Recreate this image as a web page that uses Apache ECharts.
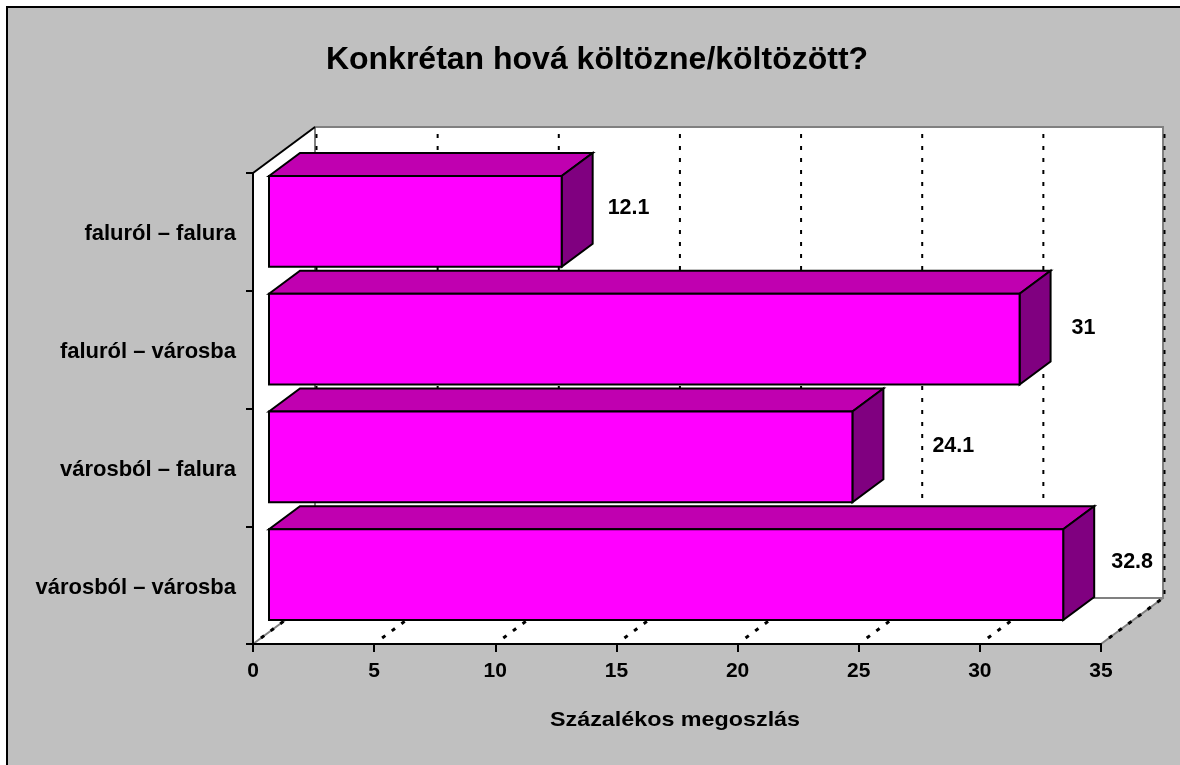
<!DOCTYPE html>
<html>
<head>
<meta charset="utf-8">
<title>Konkrétan hová költözne/költözött?</title>
<script src="https://cdn.jsdelivr.net/npm/echarts@6/dist/echarts.min.js"></script>
<style>
  html, body { margin: 0; padding: 0; background: #ffffff; }
  #chart { width: 1180px; height: 765px; }
</style>
</head>
<body>
<div id="chart"></div>
<script>
// bottom-to-top, the category axis starts at the bottom
const categories = ["városból – városba", "városból – falura", "faluról – városba", "faluról – falura"];
const shares = [32.8, 24.1, 31, 12.1];
const valueTicks = [0, 5, 10, 15, 20, 25, 30, 35];
const titleText = "Konkrétan hová költözne/költözött?";
const axisTitle = "Százalékos megoszlás";

const FONT = '"Liberation Sans", Arial, sans-serif';
// chart depth in px (the fake 3D from the old Excel look)
const DEPTH_X = 62;
const DEPTH_Y = -46;

const myChart = echarts.init(document.getElementById("chart"), null, { renderer: "canvas" });

function renderRoom(params, api) {
  const x0 = api.coord([0, 0])[0];
  const x1 = api.coord([35, 0])[0];
  const yBottom = params.coordSys.y + params.coordSys.height;
  const yTop = params.coordSys.y;
  const backL = x0 + DEPTH_X;
  const backR = x1 + DEPTH_X;
  const backB = yBottom + DEPTH_Y;
  const backT = yTop + DEPTH_Y;
  const children = [];
  const white = { fill: "#ffffff", stroke: null };

  children.push({ type: "polygon", shape: { points: [[backL, backT], [backR, backT], [backR, backB], [backL, backB]] }, style: white });
  children.push({ type: "polygon", shape: { points: [[x0, yTop], [backL, backT], [backL, backB], [x0, yBottom]] }, style: white });
  children.push({ type: "polygon", shape: { points: [[x0, yBottom], [x1, yBottom], [backR, backB], [backL, backB]] }, style: white });

  const gray = { stroke: "#808080", lineWidth: 2, fill: null };
  children.push({ type: "polyline", shape: { points: [[backL, backB], [backL, backT], [backR, backT], [backR, backB], [backL, backB]] }, style: gray });
  children.push({ type: "line", shape: { x1: x0, y1: yBottom, x2: backL, y2: backB }, style: gray });
  children.push({ type: "line", shape: { x1: x1, y1: yBottom, x2: backR, y2: backB }, style: gray });
  children.push({ type: "line", shape: { x1: x0, y1: yTop, x2: backL, y2: backT }, style: { stroke: "#000000", lineWidth: 2 } });

  // dashed gridlines, up the back wall and across the floor
  valueTicks.forEach(function (t) {
    const x = api.coord([t, 0])[0];
    children.push({
      type: "line",
      shape: { x1: x + DEPTH_X + 1.5, y1: backT + 7, x2: x + DEPTH_X + 1.5, y2: backB },
      style: { stroke: "#000000", lineWidth: 2, lineDash: [4, 8] }
    });
    children.push({
      type: "line",
      shape: { x1: x + 8, y1: yBottom - 6, x2: x + DEPTH_X, y2: backB },
      style: { stroke: "#000000", lineWidth: 3, lineDash: [4, 8] }
    });
  });

  return { type: "group", children: children };
}

function renderBar(params, api) {
  const idx = params.dataIndex;
  const band = api.size([0, 1])[1];
  const start = api.coord([0, api.value(1)]);
  const end = api.coord([api.value(0), api.value(1)]);
  // bars stand in the middle of the depth, a quarter of it in front
  const left = start[0] + DEPTH_X / 4 + 0.5;
  const right = end[0] + DEPTH_X / 4;
  const h = band * 0.77;
  const top = end[1] - h / 2 - 10.5;
  const bottom = top + h;
  const dx = DEPTH_X / 2;
  const dy = DEPTH_Y / 2;
  const edge = { stroke: "#000000", lineWidth: 2, lineJoin: "miter" };
  // the labels are not evenly placed in the reference, 24.1 sits well out
  const labelX = [48, 80, 52, 46][idx];
  const labelY = [-23, -21, -22, -24][idx];
  return {
    type: "group",
    children: [
      { type: "polygon", shape: { points: [[left, top], [left + dx, top + dy], [right + dx, top + dy], [right, top]] }, style: Object.assign({ fill: "#c000b0" }, edge) },
      { type: "polygon", shape: { points: [[right, top], [right + dx, top + dy], [right + dx, bottom + dy], [right, bottom]] }, style: Object.assign({ fill: "#800080" }, edge) },
      { type: "rect", shape: { x: left, y: top, width: right - left, height: h }, style: Object.assign({ fill: "#ff00ff" }, edge) },
      { type: "text", style: { x: right + labelX, y: end[1] + labelY, text: String(api.value(0)), fill: "#000000", font: "bold 21.5px " + FONT, align: "left", verticalAlign: "middle" } }
    ]
  };
}

const option = {
  backgroundColor: "#ffffff",
  animation: false,
  graphic: [
    { type: "rect", z: -10, shape: { x: 7, y: 7, width: 1200, height: 800 }, style: { fill: "#c0c0c0", stroke: "#000000", lineWidth: 2 } },
    // the original spaces these letters out, stretching is the closest canvas gets
    { type: "text", x: 675, y: 720, scaleX: 1.11, style: { text: axisTitle, fill: "#000000", font: "bold 21px " + FONT, align: "center", verticalAlign: "middle" } }
  ],
  title: {
    text: titleText,
    left: 592,
    top: 39,
    textAlign: "center",
    textStyle: { fontFamily: FONT, fontSize: 32, fontWeight: "bold", color: "#000000" }
  },
  grid: { left: 253, right: 79, top: 173, bottom: 121, containLabel: false },
  xAxis: {
    type: "value",
    min: 0,
    max: 35,
    interval: 5,
    z: 5,
    axisLine: { show: true, lineStyle: { color: "#000000", width: 2 } },
    axisTick: { show: true, length: 8, lineStyle: { color: "#000000", width: 2 } },
    axisLabel: { margin: 17, fontFamily: FONT, fontSize: 21, fontWeight: "bold", color: "#000000", showMinLabel: true, showMaxLabel: true, hideOverlap: false },
    splitLine: { show: false }
  },
  yAxis: {
    type: "category",
    data: categories,
    z: 5,
    axisLine: { show: true, lineStyle: { color: "#000000", width: 2 } },
    axisTick: { show: true, length: 7, lineStyle: { color: "#000000", width: 2 } },
    // short line box from the band centre down, pushes the text about 2px lower
    axisLabel: { margin: 17, fontFamily: FONT, fontSize: 22, fontWeight: "bold", color: "#000000", verticalAlign: "top", lineHeight: 5 },
    splitLine: { show: false }
  },
  series: [
    {
      type: "custom",
      coordinateSystem: "cartesian2d",
      renderItem: renderRoom,
      data: [[0, 0]],
      z: 1,
      silent: true
    },
    {
      type: "custom",
      coordinateSystem: "cartesian2d",
      renderItem: renderBar,
      encode: { x: 0, y: 1 },
      data: shares.map(function (v, i) { return [v, i]; }),
      z: 2,
      silent: true
    }
  ]
};

option && myChart.setOption(option, true);
</script>
</body>
</html>
